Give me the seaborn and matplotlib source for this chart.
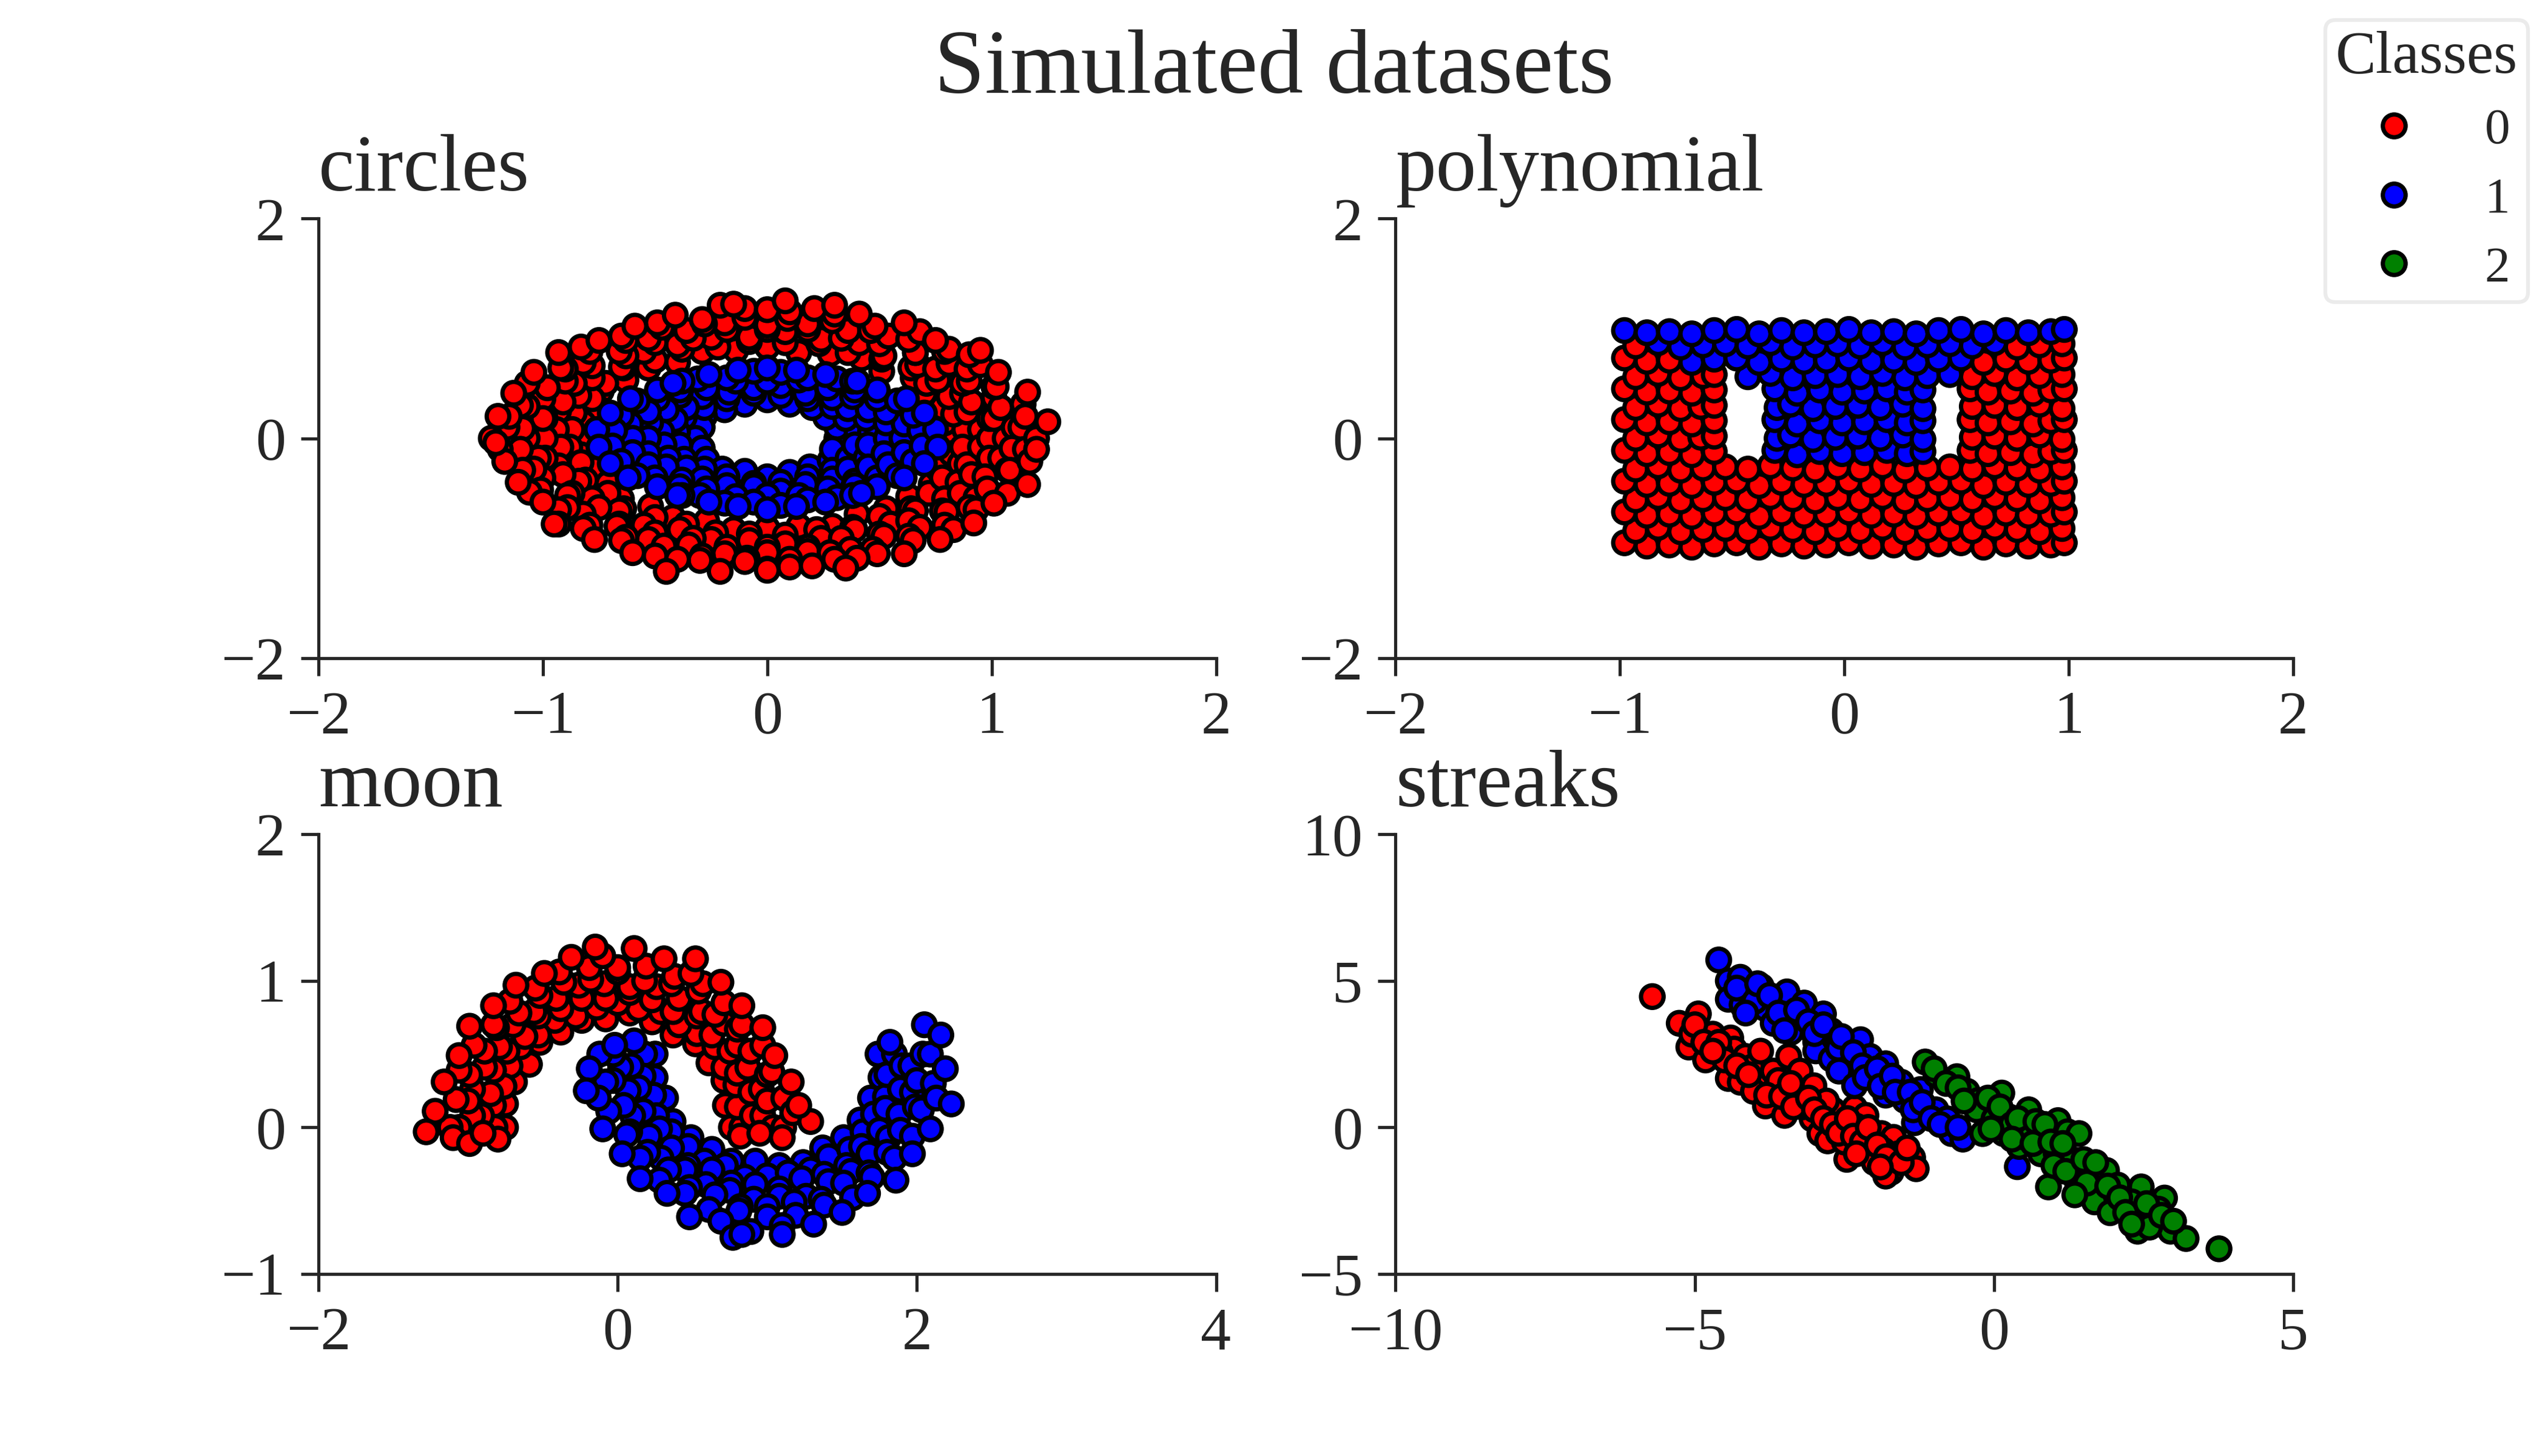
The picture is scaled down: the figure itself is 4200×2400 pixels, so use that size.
import matplotlib
matplotlib.use("Agg")
import matplotlib.pyplot as plt
from matplotlib.lines import Line2D
import pandas as pd
import seaborn as sns

# points, one list of (x, y) per class and panel
circles_red = [
    (0.84, 0.00), (0.79, 0.14), (0.78, 0.28), (0.70, 0.41), (0.65, 0.55), (0.51, 0.61),
    (0.42, 0.73), (0.28, 0.77), (0.14, 0.78), (0.00, 0.83), (-0.14, 0.80), (-0.29, 0.79),
    (-0.40, 0.69), (-0.53, 0.64), (-0.63, 0.53), (-0.74, 0.43), (-0.75, 0.27), (-0.82, 0.14),
    (-0.81, 0.00), (-0.83, -0.15), (-0.75, -0.27), (-0.71, -0.41), (-0.65, -0.55), (-0.52, -0.62),
    (-0.42, -0.72), (-0.27, -0.75), (-0.15, -0.83), (0.00, -0.82), (0.14, -0.80), (0.29, -0.80),
    (0.40, -0.69), (0.53, -0.64), (0.63, -0.53), (0.73, -0.42), (0.76, -0.28), (0.82, -0.14),
    (0.88, 0.08), (0.83, 0.22), (0.81, 0.38), (0.71, 0.50), (0.64, 0.64), (0.51, 0.72),
    (0.36, 0.78), (0.23, 0.86), (0.08, 0.87), (-0.08, 0.88), (-0.22, 0.83), (-0.38, 0.81),
    (-0.50, 0.71), (-0.64, 0.64), (-0.72, 0.50), (-0.78, 0.36), (-0.86, 0.23), (-0.87, 0.08),
    (-0.88, -0.08), (-0.83, -0.22), (-0.81, -0.38), (-0.71, -0.50), (-0.64, -0.64), (-0.50, -0.72),
    (-0.36, -0.78), (-0.23, -0.86), (-0.08, -0.87), (0.08, -0.88), (0.22, -0.83), (0.38, -0.81),
    (0.50, -0.71), (0.64, -0.64), (0.72, -0.50), (0.78, -0.36), (0.86, -0.23), (0.87, -0.08),
    (0.95, 0.08), (0.89, 0.24), (0.87, 0.41), (0.76, 0.53), (0.67, 0.67), (0.52, 0.75),
    (0.41, 0.87), (0.24, 0.90), (0.08, 0.97), (-0.08, 0.92), (-0.25, 0.92), (-0.40, 0.85),
    (-0.55, 0.79), (-0.65, 0.65), (-0.78, 0.55), (-0.84, 0.39), (-0.93, 0.25), (-0.94, 0.08),
    (-0.92, -0.08), (-0.93, -0.25), (-0.84, -0.39), (-0.78, -0.55), (-0.66, -0.66), (-0.55, -0.79),
    (-0.39, -0.83), (-0.25, -0.92), (-0.08, -0.93), (0.08, -0.96), (0.24, -0.91), (0.39, -0.83),
    (0.55, -0.78), (0.66, -0.66), (0.79, -0.55), (0.85, -0.40), (0.89, -0.24), (0.95, -0.08),
    (0.99, 0.00), (0.99, 0.18), (0.91, 0.33), (0.87, 0.50), (0.75, 0.63), (0.66, 0.78),
    (0.50, 0.86), (0.33, 0.91), (0.18, 0.99), (0.00, 0.99), (-0.18, 0.99), (-0.33, 0.91),
    (-0.50, 0.87), (-0.63, 0.75), (-0.78, 0.66), (-0.86, 0.50), (-0.91, 0.33), (-0.99, 0.18),
    (-0.99, 0.00), (-0.99, -0.18), (-0.91, -0.33), (-0.87, -0.50), (-0.75, -0.63), (-0.66, -0.78),
    (-0.50, -0.86), (-0.33, -0.91), (-0.18, -0.99), (0.00, -0.99), (0.18, -0.99), (0.33, -0.91),
    (0.50, -0.87), (0.63, -0.75), (0.78, -0.66), (0.86, -0.50), (0.91, -0.33), (0.99, -0.18),
    (1.06, 0.00), (1.01, 0.18), (1.01, 0.37), (0.90, 0.52), (0.81, 0.68), (0.66, 0.78),
    (0.54, 0.93), (0.36, 0.98), (0.18, 1.04), (0.00, 1.03), (-0.19, 1.05), (-0.36, 0.98),
    (-0.53, 0.91), (-0.66, 0.79), (-0.82, 0.69), (-0.90, 0.52), (-1.00, 0.36), (-1.00, 0.18),
    (-1.07, 0.00), (-1.02, -0.18), (-1.00, -0.36), (-0.89, -0.52), (-0.82, -0.69), (-0.67, -0.80),
    (-0.53, -0.92), (-0.35, -0.97), (-0.19, -1.05), (0.00, -1.04), (0.18, -1.03), (0.37, -1.01),
    (0.52, -0.89), (0.68, -0.81), (0.80, -0.67), (0.93, -0.54), (0.97, -0.35), (1.04, -0.18),
    (1.10, 0.10), (1.04, 0.28), (1.01, 0.47), (0.89, 0.63), (0.79, 0.79), (0.63, 0.90),
    (0.46, 0.98), (0.29, 1.07), (0.09, 1.09), (-0.10, 1.10), (-0.28, 1.04), (-0.47, 1.01),
    (-0.63, 0.89), (-0.79, 0.79), (-0.90, 0.63), (-0.98, 0.46), (-1.07, 0.29), (-1.09, 0.09),
    (-1.10, -0.10), (-1.04, -0.28), (-1.01, -0.47), (-0.89, -0.63), (-0.79, -0.79), (-0.63, -0.90),
    (-0.46, -0.98), (-0.29, -1.07), (-0.09, -1.09), (0.10, -1.10), (0.28, -1.04), (0.47, -1.01),
    (0.63, -0.89), (0.79, -0.79), (0.90, -0.63), (0.98, -0.46), (1.07, -0.29), (1.09, -0.09),
    (1.13, 0.10), (1.14, 0.31), (1.02, 0.47), (0.95, 0.67), (0.81, 0.81), (0.68, 0.97),
    (0.48, 1.02), (0.30, 1.13), (0.10, 1.15), (-0.10, 1.18), (-0.29, 1.08), (-0.49, 1.05),
    (-0.65, 0.93), (-0.83, 0.83), (-0.92, 0.64), (-1.07, 0.50), (-1.10, 0.30), (-1.16, 0.10),
    (-1.19, -0.10), (-1.09, -0.29), (-1.06, -0.49), (-0.93, -0.65), (-0.82, -0.82), (-0.65, -0.93),
    (-0.50, -1.07), (-0.30, -1.11), (-0.10, -1.12), (0.10, -1.17), (0.30, -1.10), (0.49, -1.05),
    (0.65, -0.93), (0.83, -0.83), (0.93, -0.65), (1.07, -0.50), (1.08, -0.29), (1.15, -0.10),
    (1.20, 0.00), (1.16, 0.42), (0.90, 0.76), (0.61, 1.05), (0.21, 1.18), (-0.21, 1.21),
    (-0.59, 1.02), (-0.93, 0.78), (-1.13, 0.41), (-1.23, 0.00), (-1.11, -0.40), (-0.93, -0.78),
    (-0.60, -1.04), (-0.21, -1.21), (0.20, -1.16), (0.61, -1.05), (0.92, -0.77), (1.16, -0.42),
    (1.15, 0.20), (1.03, 0.60), (0.75, 0.89), (0.41, 1.13), (0.00, 1.17), (-0.41, 1.12),
    (-0.75, 0.89), (-1.04, 0.60), (-1.15, 0.20), (-1.17, -0.21), (-1.00, -0.58), (-0.77, -0.92),
    (-0.40, -1.10), (0.00, -1.19), (0.40, -1.09), (0.77, -0.92), (1.01, -0.59), (1.17, -0.21),
    (0.08, 1.25), (-0.15, 1.22), (0.30, 1.21), (-0.45, -1.21), (0.00, -1.20), (0.35, -1.18),
    (1.25, 0.15), (-1.21, -0.04), (-1.20, 0.20), (1.20, -0.10), (0.95, 0.80), (-0.95, -0.78),
]
circles_blue = [
    (0.31, 0.00), (0.31, 0.10), (0.26, 0.19), (0.20, 0.28), (0.10, 0.31), (0.00, 0.35),
    (-0.10, 0.31), (-0.19, 0.26), (-0.28, 0.20), (-0.29, 0.10), (-0.32, 0.00), (-0.29, -0.09),
    (-0.27, -0.19), (-0.20, -0.28), (-0.10, -0.30), (0.00, -0.35), (0.10, -0.31), (0.19, -0.26),
    (0.28, -0.20), (0.29, -0.10),
    (0.40, 0.06), (0.35, 0.18), (0.29, 0.29), (0.18, 0.36), (0.06, 0.39), (-0.06, 0.41),
    (-0.18, 0.36), (-0.28, 0.28), (-0.37, 0.19), (-0.40, 0.06), (-0.39, -0.06), (-0.37, -0.19),
    (-0.28, -0.28), (-0.18, -0.35), (-0.06, -0.41), (0.06, -0.40), (0.18, -0.35), (0.29, -0.29),
    (0.36, -0.18), (0.39, -0.06),
    (0.46, 0.06), (0.44, 0.18), (0.36, 0.27), (0.29, 0.37), (0.17, 0.41), (0.06, 0.48),
    (-0.06, 0.46), (-0.17, 0.42), (-0.29, 0.38), (-0.36, 0.28), (-0.41, 0.17), (-0.47, 0.06),
    (-0.46, -0.06), (-0.44, -0.18), (-0.36, -0.27), (-0.29, -0.37), (-0.18, -0.43), (-0.06, -0.44),
    (0.06, -0.48), (0.17, -0.42), (0.29, -0.37), (0.36, -0.28), (0.44, -0.18), (0.45, -0.06),
    (0.53, 0.00), (0.53, 0.14), (0.45, 0.26), (0.38, 0.38), (0.27, 0.46), (0.14, 0.53),
    (0.00, 0.52), (-0.14, 0.52), (-0.27, 0.46), (-0.39, 0.39), (-0.45, 0.26), (-0.52, 0.14),
    (-0.53, 0.00), (-0.53, -0.14), (-0.45, -0.26), (-0.38, -0.38), (-0.27, -0.46), (-0.14, -0.53),
    (0.00, -0.52), (0.14, -0.52), (0.27, -0.46), (0.39, -0.39), (0.45, -0.26), (0.52, -0.14),
    (0.60, 0.00), (0.61, 0.13), (0.53, 0.24), (0.49, 0.36), (0.39, 0.44), (0.31, 0.54),
    (0.18, 0.55), (0.06, 0.60), (-0.06, 0.61), (-0.18, 0.55), (-0.31, 0.54), (-0.39, 0.44),
    (-0.49, 0.36), (-0.53, 0.24), (-0.61, 0.13), (-0.60, 0.00), (-0.60, -0.13), (-0.53, -0.24),
    (-0.50, -0.36), (-0.39, -0.44), (-0.30, -0.52), (-0.19, -0.59), (-0.06, -0.58), (0.06, -0.61),
    (0.18, -0.56), (0.31, -0.54), (0.39, -0.43), (0.49, -0.36), (0.54, -0.24), (0.61, -0.13),
    (0.68, 0.07), (0.65, 0.21), (0.58, 0.34), (0.49, 0.44), (0.38, 0.52), (0.26, 0.58),
    (0.13, 0.62), (0.00, 0.64), (-0.13, 0.62), (-0.26, 0.58), (-0.38, 0.52), (-0.49, 0.44),
    (-0.58, 0.34), (-0.65, 0.21), (-0.68, 0.07), (-0.69, -0.07), (-0.65, -0.21), (-0.58, -0.34),
    (-0.49, -0.44), (-0.38, -0.52), (-0.26, -0.58), (-0.13, -0.62), (0.00, -0.65), (0.13, -0.62),
    (0.26, -0.58), (0.38, -0.52), (0.49, -0.44), (0.58, -0.34), (0.65, -0.21), (0.69, -0.07),
    (0.75, 0.08), (0.70, 0.23), (0.62, 0.36), (0.76, -0.08), (0.70, -0.23), (0.61, -0.36),
    (-0.76, 0.08), (-0.70, 0.23), (-0.61, 0.36), (-0.75, -0.08), (-0.70, -0.23), (-0.62, -0.36),
    (0.40, 0.52), (-0.42, 0.50), (-0.40, -0.52), (0.42, -0.50),
]

poly_red = [
    (-0.98, -0.95), (-0.88, -0.98), (-0.78, -0.97), (-0.68, -0.99), (-0.58, -0.96), (-0.48, -0.95),
    (-0.38, -0.99), (-0.28, -0.96), (-0.18, -0.98), (-0.08, -0.97), (0.02, -0.95), (0.12, -0.98),
    (0.22, -0.97), (0.32, -0.99), (0.42, -0.96), (0.52, -0.95), (0.62, -0.99), (0.72, -0.96),
    (0.82, -0.98), (0.92, -0.97), (0.98, -0.95),
    (-0.93, -0.84), (-0.83, -0.81), (-0.73, -0.85), (-0.63, -0.83), (-0.53, -0.82), (-0.43, -0.84),
    (-0.33, -0.81), (-0.23, -0.83), (-0.13, -0.85), (-0.03, -0.82), (0.07, -0.84), (0.17, -0.81),
    (0.27, -0.85), (0.37, -0.83), (0.47, -0.82), (0.57, -0.84), (0.67, -0.81), (0.77, -0.83),
    (0.87, -0.85), (0.97, -0.82),
    (-0.98, -0.67), (-0.88, -0.70), (-0.78, -0.69), (-0.68, -0.71), (-0.58, -0.68), (-0.48, -0.67),
    (-0.38, -0.71), (-0.28, -0.68), (-0.18, -0.70), (-0.08, -0.69), (0.02, -0.67), (0.12, -0.70),
    (0.22, -0.69), (0.32, -0.71), (0.42, -0.68), (0.52, -0.67), (0.62, -0.71), (0.72, -0.68),
    (0.82, -0.70), (0.92, -0.69), (0.98, -0.67),
    (-0.93, -0.56), (-0.83, -0.53), (-0.73, -0.57), (-0.63, -0.55), (-0.53, -0.54), (-0.43, -0.56),
    (-0.33, -0.53), (-0.23, -0.55), (-0.13, -0.57), (-0.03, -0.54), (0.07, -0.56), (0.17, -0.53),
    (0.27, -0.57), (0.37, -0.55), (0.47, -0.54), (0.57, -0.56), (0.67, -0.53), (0.77, -0.55),
    (0.87, -0.57), (0.97, -0.54),
    (-0.98, -0.39), (-0.88, -0.42), (-0.78, -0.41), (-0.68, -0.43), (-0.58, -0.40), (-0.48, -0.39),
    (-0.38, -0.43), (-0.28, -0.40), (-0.18, -0.42), (-0.08, -0.41), (0.02, -0.39), (0.12, -0.42),
    (0.22, -0.41), (0.32, -0.43), (0.42, -0.40), (0.52, -0.39), (0.62, -0.43), (0.72, -0.40),
    (0.82, -0.42), (0.92, -0.41), (0.98, -0.39),
    (-0.93, -0.28), (-0.83, -0.25), (-0.73, -0.29), (-0.63, -0.27), (-0.53, -0.26), (-0.43, -0.28),
    (-0.33, -0.25), (-0.23, -0.27), (-0.13, -0.29), (-0.03, -0.26), (0.07, -0.28), (0.17, -0.25),
    (0.27, -0.29), (0.37, -0.27), (0.47, -0.26), (0.57, -0.28), (0.67, -0.25), (0.77, -0.27),
    (0.87, -0.29), (0.97, -0.26),
    (-0.98, -0.11), (-0.88, -0.14), (-0.78, -0.13), (-0.68, -0.15), (-0.58, -0.12),
    (0.56, -0.11), (0.64, -0.14), (0.74, -0.13), (0.84, -0.15), (0.92, -0.12), (0.98, -0.11),
    (-0.93, 0.00), (-0.83, 0.03), (-0.73, -0.01), (-0.64, 0.01), (-0.58, 0.02),
    (0.57, 0.01), (0.67, 0.02), (0.77, 0.00), (0.87, 0.03), (0.97, -0.01),
    (-0.98, 0.17), (-0.88, 0.14), (-0.78, 0.15), (-0.68, 0.13), (-0.58, 0.16),
    (0.56, 0.17), (0.64, 0.14), (0.74, 0.15), (0.84, 0.13), (0.92, 0.16), (0.98, 0.17),
    (-0.93, 0.28), (-0.83, 0.31), (-0.73, 0.27), (-0.64, 0.29), (-0.58, 0.30),
    (0.57, 0.29), (0.67, 0.30), (0.77, 0.28), (0.87, 0.31), (0.97, 0.27),
    (-0.98, 0.45), (-0.88, 0.42), (-0.78, 0.43), (-0.68, 0.41), (-0.58, 0.44),
    (0.56, 0.45), (0.64, 0.42), (0.74, 0.43), (0.84, 0.41), (0.92, 0.44), (0.98, 0.45),
    (-0.93, 0.56), (-0.83, 0.59), (-0.73, 0.55), (-0.63, 0.57), (-0.58, 0.58),
    (0.57, 0.56), (0.67, 0.59), (0.77, 0.55), (0.87, 0.57), (0.97, 0.58),
    (-0.98, 0.73), (-0.88, 0.70), (-0.78, 0.71),
    (0.62, 0.69), (0.72, 0.72), (0.82, 0.70), (0.92, 0.71), (0.98, 0.73),
    (-0.93, 0.84), (0.77, 0.83), (0.87, 0.85), (0.97, 0.86),
]
poly_blue = [
    (-0.31, -0.11), (-0.21, -0.15), (-0.11, -0.12), (-0.01, -0.14), (0.09, -0.13), (0.19, -0.11),
    (0.28, -0.14), (0.35, -0.12),
    (-0.30, 0.00), (-0.24, 0.03), (-0.14, -0.01), (-0.04, 0.01), (0.06, 0.02), (0.16, 0.00),
    (0.26, 0.03), (0.35, -0.01),
    (-0.31, 0.17), (-0.21, 0.13), (-0.11, 0.16), (-0.01, 0.14), (0.09, 0.15), (0.19, 0.17),
    (0.28, 0.14), (0.35, 0.16),
    (-0.30, 0.28), (-0.24, 0.31), (-0.14, 0.27), (-0.04, 0.29), (0.06, 0.30), (0.16, 0.28),
    (0.26, 0.31), (0.35, 0.27),
    (-0.31, 0.45), (-0.21, 0.41), (-0.11, 0.44), (-0.01, 0.42), (0.09, 0.43), (0.19, 0.45),
    (0.28, 0.42), (0.35, 0.44),
    (-0.43, 0.56), (-0.33, 0.59), (-0.23, 0.55), (-0.13, 0.57), (-0.03, 0.58), (0.07, 0.56),
    (0.17, 0.59), (0.27, 0.55), (0.37, 0.57), (0.47, 0.58),
    (-0.68, 0.69), (-0.58, 0.72), (-0.48, 0.73), (-0.38, 0.69), (-0.28, 0.72), (-0.18, 0.70),
    (-0.08, 0.71), (0.02, 0.73), (0.12, 0.70), (0.22, 0.71), (0.32, 0.69), (0.42, 0.72),
    (0.52, 0.73),
    (-0.83, 0.87), (-0.73, 0.83), (-0.63, 0.85), (-0.53, 0.86), (-0.43, 0.84), (-0.33, 0.87),
    (-0.23, 0.83), (-0.13, 0.85), (-0.03, 0.86), (0.07, 0.84), (0.17, 0.87), (0.27, 0.83),
    (0.37, 0.85), (0.47, 0.86), (0.57, 0.84), (0.67, 0.87),
    (-0.98, 0.98), (-0.88, 0.96), (-0.78, 0.97), (-0.68, 0.95), (-0.58, 0.98), (-0.48, 0.99),
    (-0.38, 0.95), (-0.28, 0.98), (-0.18, 0.96), (-0.08, 0.97), (0.02, 0.99), (0.12, 0.96),
    (0.22, 0.97), (0.32, 0.95), (0.42, 0.98), (0.52, 0.99), (0.62, 0.95), (0.72, 0.98),
    (0.82, 0.96), (0.92, 0.97), (0.98, 0.99),
]

moon_red = [
    (0.76, 0.00), (0.72, 0.15), (0.71, 0.32), (0.61, 0.44), (0.52, 0.57), (0.37, 0.63),
    (0.23, 0.72), (0.08, 0.78), (-0.08, 0.74), (-0.24, 0.73), (-0.38, 0.65), (-0.52, 0.58),
    (-0.59, 0.43), (-0.69, 0.31), (-0.75, 0.16), (-0.75, 0.00),
    (0.83, 0.00), (0.80, 0.14), (0.79, 0.29), (0.71, 0.41), (0.65, 0.55), (0.53, 0.64),
    (0.41, 0.70), (0.29, 0.79), (0.14, 0.81), (0.00, 0.85), (-0.14, 0.82), (-0.28, 0.76),
    (-0.42, 0.73), (-0.53, 0.63), (-0.65, 0.55), (-0.72, 0.42), (-0.76, 0.28), (-0.83, 0.15),
    (-0.82, 0.00),
    (0.90, 0.08), (0.89, 0.24), (0.80, 0.37), (0.75, 0.52), (0.63, 0.63), (0.53, 0.76),
    (0.37, 0.79), (0.23, 0.87), (0.08, 0.92), (-0.08, 0.88), (-0.24, 0.88), (-0.38, 0.81),
    (-0.53, 0.76), (-0.62, 0.62), (-0.74, 0.52), (-0.83, 0.39), (-0.85, 0.23), (-0.91, 0.08),
    (0.97, 0.08), (0.96, 0.26), (0.87, 0.41), (0.80, 0.56), (0.71, 0.71), (0.56, 0.79),
    (0.41, 0.88), (0.26, 0.96), (0.08, 0.96), (-0.09, 0.98), (-0.26, 0.97), (-0.41, 0.88),
    (-0.56, 0.79), (-0.70, 0.70), (-0.79, 0.55), (-0.89, 0.41), (-0.97, 0.26), (-0.97, 0.08),
    (1.04, 0.00), (1.00, 0.18), (1.00, 0.36), (0.89, 0.52), (0.80, 0.67), (0.65, 0.77),
    (0.54, 0.93), (0.36, 0.98), (0.18, 1.00), (0.00, 1.06), (-0.18, 1.01), (-0.36, 0.99),
    (-0.52, 0.90), (-0.66, 0.78), (-0.81, 0.68), (-0.89, 0.52), (-0.99, 0.36), (-1.00, 0.18),
    (-1.06, 0.00),
    (1.11, 0.00), (1.11, 0.20), (1.03, 0.38), (0.97, 0.56), (0.83, 0.70), (0.71, 0.85),
    (0.57, 0.98), (0.38, 1.03), (0.19, 1.10), (0.00, 1.09), (-0.19, 1.09), (-0.39, 1.06),
    (-0.55, 0.95), (-0.72, 0.86), (-0.83, 0.70), (-0.96, 0.56), (-1.06, 0.39), (-1.08, 0.19),
    (-1.12, 0.00),
    (1.17, 0.10), (1.16, 0.31), (1.05, 0.49), (0.97, 0.68), (0.83, 0.83), (0.69, 0.99),
    (0.49, 1.05), (0.31, 1.15), (0.11, 1.22), (-0.10, 1.17), (-0.31, 1.16), (-0.49, 1.05),
    (-0.68, 0.97), (-0.83, 0.83), (-0.99, 0.69), (-1.06, 0.49), (-1.16, 0.31), (-1.22, 0.11),
    (-1.28, -0.03), (-1.10, -0.07), (-0.99, -0.11), (-0.80, -0.08), (-0.90, -0.04), (1.29, 0.04),
    (1.10, -0.07), (0.82, -0.06), (0.95, -0.04), (1.21, 0.15), (-0.15, 1.23), (0.52, 1.15),
]
moon_blue = [
    (0.25, 0.50), (0.25, 0.34), (0.32, 0.20), (0.37, 0.04), (0.49, -0.07), (0.63, -0.15),
    (0.76, -0.23), (0.92, -0.23), (1.08, -0.26), (1.24, -0.24), (1.37, -0.14), (1.51, -0.07),
    (1.62, 0.05), (1.69, 0.20), (1.76, 0.34), (1.74, 0.50),
    (0.18, 0.50), (0.17, 0.35), (0.24, 0.22), (0.26, 0.08), (0.36, -0.03), (0.47, -0.13),
    (0.58, -0.23), (0.72, -0.26), (0.85, -0.34), (1.00, -0.33), (1.14, -0.31), (1.29, -0.29),
    (1.41, -0.20), (1.55, -0.15), (1.64, -0.03), (1.71, 0.09), (1.79, 0.21), (1.80, 0.36),
    (1.85, 0.50),
    (0.09, 0.42), (0.14, 0.27), (0.17, 0.11), (0.28, -0.01), (0.36, -0.14), (0.47, -0.26),
    (0.63, -0.29), (0.76, -0.38), (0.92, -0.39), (1.08, -0.42), (1.23, -0.35), (1.38, -0.32),
    (1.53, -0.26), (1.63, -0.13), (1.75, -0.02), (1.79, 0.13), (1.89, 0.26), (1.90, 0.42),
    (0.02, 0.41), (0.07, 0.25), (0.10, 0.08), (0.21, -0.06), (0.29, -0.21), (0.45, -0.29),
    (0.59, -0.39), (0.75, -0.43), (0.91, -0.49), (1.08, -0.47), (1.26, -0.47), (1.41, -0.37),
    (1.56, -0.30), (1.68, -0.18), (1.81, -0.07), (1.88, 0.09), (1.97, 0.24), (1.96, 0.42),
    (-0.03, 0.50), (-0.03, 0.32), (0.04, 0.15), (0.08, -0.03), (0.20, -0.17), (0.34, -0.29),
    (0.48, -0.41), (0.65, -0.46), (0.82, -0.54), (1.00, -0.54), (1.18, -0.51), (1.36, -0.49),
    (1.51, -0.38), (1.68, -0.31), (1.80, -0.17), (1.89, -0.02), (1.99, 0.14), (2.00, 0.32),
    (2.04, 0.50),
    (-0.12, 0.50), (-0.08, 0.31), (-0.06, 0.11), (0.06, -0.05), (0.15, -0.21), (0.28, -0.36),
    (0.45, -0.45), (0.61, -0.56), (0.81, -0.57), (1.00, -0.61), (1.19, -0.60), (1.38, -0.53),
    (1.57, -0.48), (1.70, -0.34), (1.85, -0.21), (1.97, -0.06), (2.03, 0.12), (2.11, 0.30),
    (2.09, 0.50),
    (-0.19, 0.40), (-0.13, 0.20), (-0.10, -0.01), (0.03, -0.18), (0.15, -0.35), (0.33, -0.45),
    (0.48, -0.61), (0.69, -0.64), (0.89, -0.71), (1.10, -0.67), (1.31, -0.66), (1.50, -0.58),
    (1.67, -0.45), (1.86, -0.36), (1.97, -0.18), (2.09, -0.01), (2.13, 0.20), (2.19, 0.40),
    (0.11, 0.59), (-0.21, 0.25), (0.77, -0.75), (1.10, -0.73), (0.83, -0.73), (2.05, 0.70),
    (2.16, 0.63), (1.82, 0.58), (2.23, 0.16), (-0.02, 0.56),
]

streak_red = [
    (-5.71, 4.46), (-5.26, 3.55), (-4.94, 3.87), (-5.10, 2.74), (-4.82, 2.30), (-5.05, 3.18),
    (-4.70, 3.18), (-4.40, 3.05), (-4.34, 2.67), (-4.57, 2.55), (-4.15, 2.42), (-4.44, 1.67),
    (-4.24, 1.54), (-4.05, 2.05), (-3.89, 1.42), (-3.69, 1.92), (-3.69, 1.23), (-4.02, 1.23),
    (-3.43, 2.42), (-3.24, 1.92), (-3.30, 1.04), (-3.01, 1.42), (-3.82, 0.73), (-3.50, 0.41),
    (-3.04, 0.29), (-2.69, 0.60), (-2.33, 0.67), (-2.14, 0.41), (-2.91, -0.21), (-2.78, -0.46),
    (-2.59, 0.04), (-2.30, 0.04), (-2.07, -0.34), (-1.88, -0.21), (-1.68, -0.34), (-2.46, -1.09),
    (-2.14, -0.72), (-1.85, -0.78), (-1.72, -1.53), (-1.36, -1.03), (-1.30, -1.41), (-1.81, -1.66),
    (-3.20, 0.70), (-2.80, 0.90), (-3.60, 1.60), (-2.50, -0.50), (-2.00, -1.20), (-1.60, -0.90),
    (-5.00, 3.50), (-4.85, 2.90), (-4.60, 2.90), (-4.50, 2.30), (-4.30, 2.10), (-4.10, 1.80),
    (-3.80, 1.10), (-3.55, 1.05), (-3.40, 1.50), (-3.35, 0.70), (-3.10, 1.00), (-3.00, 0.60),
    (-2.85, 0.30), (-2.70, 0.10), (-2.60, -0.20), (-2.45, 0.30), (-2.35, -0.30), (-2.20, -0.50),
    (-2.10, 0.00), (-1.95, -0.60), (-1.80, -1.00), (-1.55, -1.20), (-1.45, -0.70), (-1.90, -1.35),
    (-2.30, -0.90), (-3.90, 2.60), (-4.70, 2.60),
]
streak_blue = [
    (-4.60, 5.71), (-4.44, 5.00), (-4.24, 5.12), (-4.08, 4.56), (-4.44, 4.37), (-4.21, 4.18),
    (-3.89, 4.81), (-3.82, 4.05), (-3.59, 4.18), (-3.46, 4.62), (-3.69, 3.55), (-3.17, 4.24),
    (-3.34, 3.80), (-3.17, 3.43), (-3.40, 3.24), (-2.85, 3.87), (-2.72, 3.30), (-2.98, 2.92),
    (-2.98, 2.61), (-2.43, 2.86), (-2.23, 2.99), (-2.72, 2.33), (-2.46, 2.30), (-2.59, 1.92),
    (-2.33, 1.42), (-2.07, 2.42), (-2.01, 1.73), (-1.81, 2.17), (-1.55, 1.54), (-1.81, 1.10),
    (-1.49, 0.92), (-1.23, 1.29), (-1.13, 0.41), (-1.33, 0.16), (-0.97, 0.60), (-0.78, 0.29),
    (-0.71, -0.21), (-0.52, -0.40), (0.39, -1.34),
    (-4.30, 4.75), (-4.00, 4.30), (-3.95, 4.90), (-3.75, 4.50), (-3.60, 3.90), (-3.30, 4.00),
    (-3.10, 3.60), (-3.00, 3.20), (-2.85, 3.50), (-2.60, 2.70), (-2.55, 3.10), (-2.35, 2.55),
    (-2.20, 2.10), (-2.15, 1.70), (-1.95, 2.00), (-1.90, 1.40), (-1.70, 1.75), (-1.65, 1.20),
    (-1.40, 1.20), (-1.35, 0.60), (-1.20, 0.85), (-1.05, 0.30), (-0.90, 0.10), (-0.60, 0.00),
    (-4.15, 3.90), (-3.50, 3.30),
]
streak_green = [
    (-1.15, 2.23), (-0.97, 1.79), (-0.62, 1.73), (-0.45, 1.23), (0.13, 1.17), (-0.26, 0.92),
    (-0.29, 0.60), (0.00, 0.29), (0.26, 0.35), (0.58, 0.60), (0.62, -0.03), (0.16, -0.21),
    (-0.19, -0.21), (0.42, -0.65), (0.52, -0.34), (0.84, -0.21), (1.07, 0.23), (1.23, -0.15),
    (1.42, -0.21), (0.78, -0.90), (1.04, -0.90), (0.91, -2.03), (1.30, -1.09), (1.39, -1.85),
    (1.65, -1.59), (1.88, -1.47), (1.81, -2.23), (2.07, -1.97), (2.46, -2.03), (1.68, -2.54),
    (1.94, -2.91), (2.30, -2.54), (2.85, -2.41), (2.75, -2.79), (2.62, -3.10), (2.40, -3.54),
    (2.95, -3.54), (3.21, -3.79), (3.76, -4.14),
    (-1.00, 2.00), (-0.80, 1.50), (-0.60, 1.35), (-0.50, 0.90), (-0.10, 1.00), (0.10, 0.70),
    (0.30, 0.10), (-0.05, -0.05), (0.40, 0.30), (0.70, 0.20), (0.85, 0.10), (0.30, -0.40),
    (0.65, -0.55), (0.95, -0.50), (1.15, -0.55), (1.00, -1.30), (1.20, -1.50), (1.50, -1.10),
    (1.55, -1.90), (1.70, -1.20), (1.90, -2.00), (2.10, -2.40), (2.20, -2.90), (2.55, -2.60),
    (2.60, -3.40), (2.80, -3.00), (3.00, -3.20), (1.35, -2.30), (2.30, -3.30),
]

class_labels = ["0", "1", "2"]
class_colors = {"0": "red", "1": "blue", "2": "green"}


def make_frame(*groups):
    rows = []
    for label, pts in zip(class_labels, groups):
        for x, y in pts:
            rows.append((x, y, label))
    return pd.DataFrame(rows, columns=["x", "y", "cls"])


panels = [
    ("circles", make_frame(circles_red, circles_blue), (-2, 2), (-2, 2), [-2, -1, 0, 1, 2], [-2, 0, 2]),
    ("polynomial", make_frame(poly_red, poly_blue), (-2, 2), (-2, 2), [-2, -1, 0, 1, 2], [-2, 0, 2]),
    ("moon", make_frame(moon_red, moon_blue), (-2, 4), (-1, 2), [-2, 0, 2, 4], [-1, 0, 1, 2]),
    ("streaks", make_frame(streak_red, streak_blue, streak_green), (-10, 5), (-5, 10),
     [-10, -5, 0, 5], [-5, 0, 5, 10]),
]

sns.set_theme(style="ticks", context="notebook")
plt.rcParams["font.family"] = ["Liberation Serif", "DejaVu Serif"]
plt.rcParams["xtick.labelsize"] = 24
plt.rcParams["ytick.labelsize"] = 24
plt.rcParams["xtick.major.size"] = 7
plt.rcParams["ytick.major.size"] = 7
plt.rcParams["xtick.major.width"] = 1.25
plt.rcParams["ytick.major.width"] = 1.25
plt.rcParams["xtick.major.pad"] = 6
plt.rcParams["ytick.major.pad"] = 6
plt.rcParams["axes.linewidth"] = 1.25

fig, axes = plt.subplots(2, 2, figsize=(14, 8))
fig.subplots_adjust(left=0.125, right=0.9, top=0.85, bottom=0.125, wspace=0.2, hspace=0.4)

for ax, (name, df, xlim, ylim, xticks, yticks) in zip(axes.flat, panels):
    sns.scatterplot(data=df, x="x", y="y", hue="cls", palette=class_colors,
                    s=80, edgecolor="black", linewidth=1.7, legend=False, ax=ax)
    ax.set_xlim(*xlim)
    ax.set_ylim(*ylim)
    ax.set_xticks(xticks)
    ax.set_yticks(yticks)
    ax.set_xlabel("")
    ax.set_ylabel("")
    ax.set_title(name, loc="left", fontsize=32, pad=11)
    sns.despine(ax=ax)

fig.suptitle("Simulated datasets", fontsize=36)

handles = [Line2D([], [], marker="o", linestyle="", markersize=9.0,
                  markerfacecolor=class_colors[c], markeredgecolor="black",
                  markeredgewidth=1.7) for c in class_labels]
leg = fig.legend(handles, class_labels, title="Classes", loc="upper right",
                 fontsize=20, title_fontsize=24, labelspacing=0.45, borderpad=0.2,
                 borderaxespad=0.4, frameon=True, fancybox=True, edgecolor="#e6e6e6")
leg.get_frame().set_linewidth(1.5)

fig.savefig("out.png", dpi=300)
